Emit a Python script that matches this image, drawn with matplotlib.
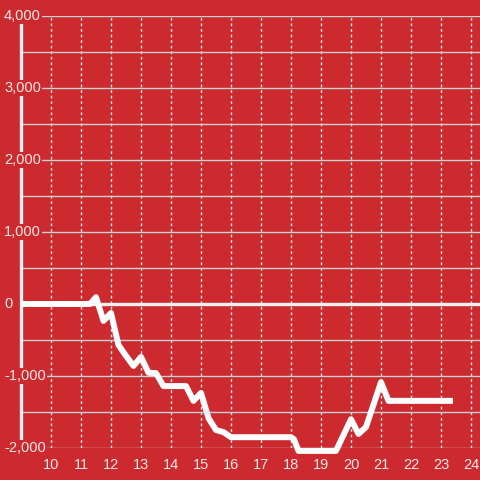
import matplotlib.pyplot as plt
import matplotlib.ticker as mticker

# hour of day vs cumulative value
hours = [9.0, 11.3, 11.5, 11.75, 12.0, 12.25, 12.5, 12.75, 13.0, 13.25, 13.5,
         13.75, 14.5, 14.75, 15.0, 15.25, 15.5, 15.75, 16.0, 18.0, 18.1,
         18.25, 19.5, 20.0, 20.25, 20.5, 21.0, 21.25, 23.4]
values = [0, 0, 95, -235, -125, -570, -720, -860, -735, -955, -960,
          -1140, -1140, -1345, -1235, -1585, -1750, -1780, -1850, -1850, -1880,
          -2040, -2040, -1600, -1805, -1710, -1085, -1345, -1345]

x_ticks = list(range(10, 25))
y_ticks = [-2000, -1000, 0, 1000, 2000, 3000, 4000]

bg = '#cc2a2f'
txt = '#f8e8e8'

plt.rcParams['font.family'] = ['Liberation Sans', 'DejaVu Sans']

fig = plt.figure(figsize=(4.8, 4.8), dpi=100, facecolor=bg)
ax = fig.add_axes([21 / 480, 32 / 480, 459 / 480, 432 / 480], facecolor=bg)

ax.set_xlim(9, 24.3)
ax.set_ylim(-2000, 4000)

ax.yaxis.set_major_locator(mticker.FixedLocator(y_ticks))
ax.yaxis.set_minor_locator(mticker.MultipleLocator(500))
ax.xaxis.set_major_locator(mticker.FixedLocator(x_ticks))
ax.set_yticklabels([])

ax.grid(axis='y', which='both', color='#cfcfcf', linewidth=1.0, zorder=1)
ax.grid(axis='x', which='major', color='#e6e6e6', linewidth=1.0,
        linestyle=(0, (2, 2)), zorder=1)
ax.axhline(0, color='#f0f0f0', linewidth=2.4, zorder=2)

for s in ['top', 'right', 'bottom']:
    ax.spines[s].set_visible(False)
ax.spines['left'].set_color('#f0f0f0')
ax.spines['left'].set_linewidth(2.4)

ax.tick_params(axis='both', which='both', length=0)
ax.tick_params(axis='x', labelsize=10.5, labelcolor=txt, pad=7)

trans = ax.get_yaxis_transform()
for v in y_ticks:
    ax.text(-17 / 459, v, f'{v:,}', transform=trans, ha='left', va='center',
            fontsize=10.5, color=txt, zorder=6, clip_on=False,
            bbox=dict(facecolor=bg, edgecolor='none', pad=1.0))

ax.plot(hours, values, color='white', linewidth=4.3, solid_joinstyle='round',
        solid_capstyle='butt', clip_on=False, zorder=3)

fig.savefig('out.png', dpi=100, facecolor=bg)
